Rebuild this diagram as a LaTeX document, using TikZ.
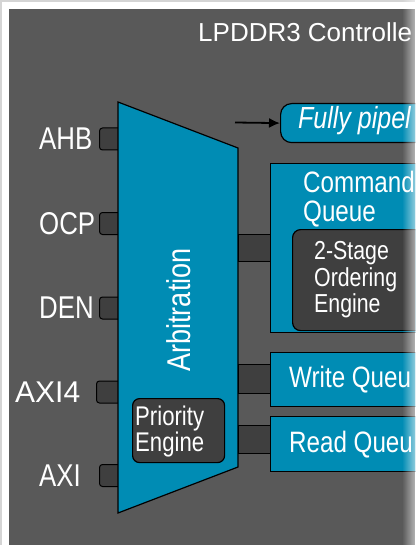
\documentclass[tikz,border=0pt]{standalone}
\usepackage{fontspec}
\setmainfont{Liberation Sans}
\newfontfamily\narrowfont[FakeStretch=0.82]{Liberation Sans}
\usetikzlibrary{calc, positioning, fadings, arrows.meta}

\definecolor{framegray}{HTML}{D4D4D4}
\definecolor{panelgray}{HTML}{595959}
\definecolor{boxgray}{HTML}{3F3F3F}
\definecolor{ctrlblue}{HTML}{008CB4}

\tikzset{
    port/.style={rectangle, draw=black, line width=1pt, fill=boxgray, rounded corners=3pt, minimum width=26pt, minimum height=22pt, inner sep=0pt},
    portlabel/.style={text=white, inner sep=0pt, font=\narrowfont\fontsize{31.5}{31.5}\selectfont},
    queue/.style={rectangle, draw=black, line width=1.2pt, fill=ctrlblue, anchor=north west, inner sep=0pt},
    engine/.style={rectangle, draw=black, line width=1.2pt, fill=boxgray, rounded corners=8pt, anchor=north west, inner sep=0pt},
    link/.style={draw=black, line width=1pt, fill=boxgray},
    boxtext/.style={text=white, inner sep=0pt, align=left}
}

\begin{document}
\begin{tikzpicture}[x=1pt, y=-1pt]
    \useasboundingbox (0,0) rectangle (415,545);
    \clip (0,0) rectangle (415,545);

    % page and panel
    \fill[framegray] (0,0) rectangle (415,545);
    \fill[white] (2,2) rectangle (415,545);
    \fill[panelgray] (9,9) rectangle (415,545);

    \node[boxtext, anchor=base west, font=\fontsize{26}{26}\selectfont] (title) at (198,42) {LPDDR3 Controlle};

    % bus ports
    \foreach \name/\y/\txt in {ahb/139/AHB, ocp/223.5/OCP, den/308/DEN, axi/475.5/AXI} {
        \node[port, anchor=west] (\name port) at (99,\y) {};
        \node[portlabel, anchor=west] (\name label) at (39,\y) {\txt};
    }
    \node[port, anchor=west, minimum width=29pt] (axifourport) at (96,392) {};
    \node[portlabel, anchor=west, font=\fontsize{30}{30}\selectfont] (axifourlabel) at (15,392) {AXI4};

    % arbiter
    \filldraw[fill=ctrlblue, draw=black, line width=1.2pt] (118,102) coordinate (arbnw) -- (238,148) coordinate (arbne)
        -- (238,467) coordinate (arbse) -- (118,513) coordinate (arbsw) -- cycle;
    \node[boxtext, rotate=90, font=\narrowfont\fontsize{33}{33}\selectfont] (arb) at (179,310) {Arbitration};

    \node[engine, rounded corners=7pt, minimum width=92pt, minimum height=64pt] (prio) at (132,398) {};
    \node[boxtext, anchor=north west, font=\narrowfont\fontsize{27}{25}\selectfont] (priolabel) at (135,405.5) {Priority\\Engine};

    % pipeline note
    \node[queue, rounded corners=11pt, minimum width=200pt, minimum height=39pt] (pipe) at (280,103) {};
    \node[boxtext, anchor=base west, font=\narrowfont\itshape\fontsize{30.5}{30.5}\selectfont] (pipelabel) at (298,129) {Fully pipel};
    \coordinate (pipein) at (235,122.5);
    \draw[-{Latex[length=11pt, width=10pt]}, line width=1.8pt] (pipein) -- (pipe.west);

    % queues
    \node[queue, minimum width=190pt, minimum height=169pt] (cmdq) at (270,163) {};
    \node[boxtext, anchor=north west, font=\narrowfont\fontsize{29.5}{29}\selectfont] (cmdqlabel) at (303,171) {Command\\Queue};
    \node[engine, minimum width=170pt, minimum height=101pt] (order) at (292,229) {};
    \node[boxtext, anchor=north west, font=\narrowfont\fontsize{26}{26.5}\selectfont] (orderlabel) at (314,241.5) {2-Stage\\Ordering\\Engine};

    \node[queue, minimum width=190pt, minimum height=54pt] (wrq) at (270,352) {};
    \node[boxtext, anchor=base west, font=\narrowfont\fontsize{29.5}{29.5}\selectfont] (wrqlabel) at (289,387) {Write Queu};
    \node[queue, minimum width=190pt, minimum height=55pt] (rdq) at (270,416) {};
    \node[boxtext, anchor=base west, font=\narrowfont\fontsize{29.5}{29.5}\selectfont] (rdqlabel) at (289,452) {Read Queu};

    % arbiter to queues
    \filldraw[link] ($(cmdq.west)+(-32,-14)$) rectangle ($(cmdq.west)+(0,13)$);
    \filldraw[link] ($(wrq.west)+(-32,-15)$) rectangle ($(wrq.west)+(0,14)$);
    \filldraw[link] ($(rdq.west)+(-32,-18.5)$) rectangle ($(rdq.west)+(0,9.5)$);

    % edge fade
    \fill[white, fill opacity=0.55, path fading=west] (402,0) rectangle (415,545);
\end{tikzpicture}
\end{document}
